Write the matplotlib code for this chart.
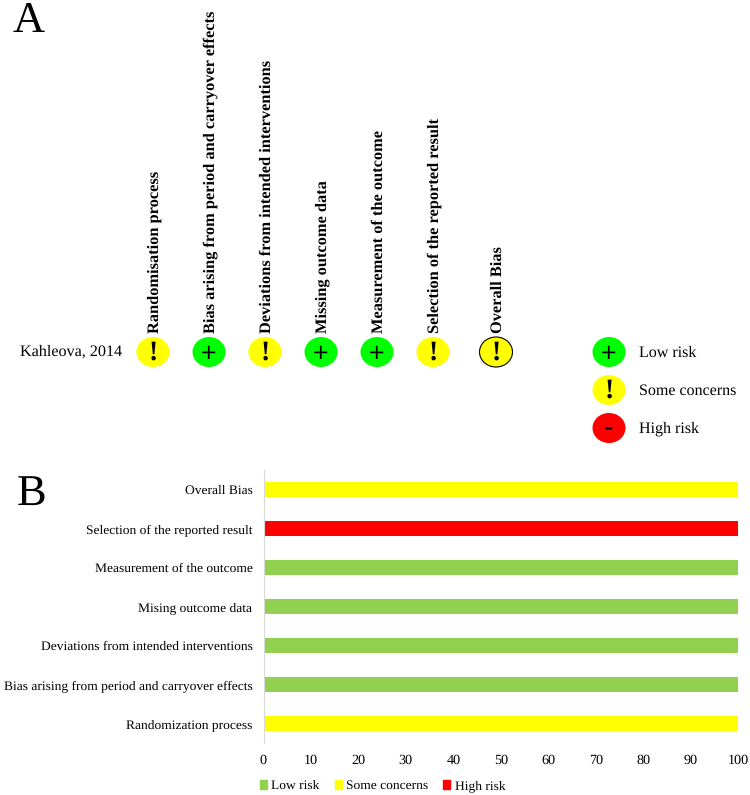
import matplotlib
matplotlib.use("Agg")
import matplotlib.pyplot as plt
from matplotlib.patches import Ellipse, Patch

plt.rcParams['font.family'] = ['Liberation Serif', 'DejaVu Sans']
plt.rcParams['text.hinting'] = 'no_hinting'

W, H = 750, 795

# panel A
domains_a = ["Randomisation process", "Bias arising from period and carryover effects",
             "Deviations from intended interventions", "Missing outcome data",
             "Measurement of the outcome", "Selection of the reported result", "Overall Bias"]
judgements = ["!", "+", "!", "+", "+", "!", "!"]
study = "Kahleova, 2014"
risk_names = ["Low risk", "Some concerns", "High risk"]
risk_symbols = ["+", "!", "-"]

# panel B
domains_b = ["Randomization process", "Bias arising from period and carryover effects",
             "Deviations from intended interventions", "Mising outcome data",
             "Measurement of the outcome", "Selection of the reported result", "Overall Bias"]
low_risk = [0, 100, 100, 100, 100, 0, 0]
some_concerns = [100, 0, 0, 0, 0, 0, 100]
high_risk = [0, 0, 0, 0, 0, 100, 0]
xticks = [0, 10, 20, 30, 40, 50, 60, 70, 80, 90, 100]

sym_colors = {"+": "#00ff00", "!": "#ffff00", "-": "#ff0000"}
col_x = [153, 209, 265, 321, 377, 433, 496]
row_y = 352
legend_x = 609
legend_y = [352, 390, 428]

fig = plt.figure(figsize=(W / 100, H / 100), dpi=100)

ax = fig.add_axes([0, 0, 1, 1])
ax.set_xlim(0, W)
ax.set_ylim(H, 0)
ax.axis("off")


def dot(x, y, s, edge="none"):
    ax.add_patch(Ellipse((x, y), 33, 30, fc=sym_colors[s], ec=edge, lw=0.8))
    if s == "+":
        ax.text(x, y + 1, s, fontsize=15, family="DejaVu Sans", ha="center", va="center")
    else:
        ax.text(x, y + 1, s, fontsize=20, fontweight="bold", ha="center", va="center")


ax.text(13, 32, "A", fontsize=32, ha="left", va="baseline")
ax.text(17, 505, "B", fontsize=32, ha="left", va="baseline")
ax.text(20, 352, study, fontsize=11.6, ha="left", va="center")

for x, name, s in zip(col_x, domains_a, judgements):
    dot(x, row_y, s, edge="black" if name == "Overall Bias" else "none")
    ax.text(x + 2, 333, name, rotation=90, fontsize=11.8, fontweight="bold", ha="center", va="bottom")

for y, name, s in zip(legend_y, risk_names, risk_symbols):
    dot(legend_x, y, s)
    ax.text(639, y + 1, name, fontsize=11.5, ha="left", va="center")

# bar panel
ax2 = fig.add_axes([263.5 / W, 1 - 743 / H, 474.5 / W, 273 / H])
ax2.patch.set_alpha(0)
ypos = list(range(len(domains_b)))
ax2.barh(ypos, low_risk, height=0.41, color="#92d050", label="Low risk")
ax2.barh(ypos, some_concerns, height=0.41, left=low_risk, color="#ffff00", label="Some concerns")
ax2.barh(ypos, high_risk, height=0.41, left=[a + b for a, b in zip(low_risk, some_concerns)],
         color="#ff0000", label="High risk")
ax2.set_xlim(0, 100)
ax2.set_ylim(-0.5, 6.5)
ax2.set_yticks(ypos)
ax2.set_yticklabels(domains_b, fontsize=9.7)
ax2.set_xticks(xticks)
ax2.tick_params(axis="x", length=0, labelsize=10.2, pad=8)
ax2.tick_params(axis="y", length=0, pad=8)
for s in ["top", "right", "bottom"]:
    ax2.spines[s].set_visible(False)
ax2.spines["left"].set_color("#d9d9d9")
ax2.spines["left"].set_linewidth(0.8)

handles = [Patch(color="#92d050"), Patch(color="#ffff00"), Patch(color="#ff0000")]
fig.legend(handles, risk_names, loc="center left", bbox_to_anchor=(260 / W, 1 - 786 / H),
           ncol=3, frameon=False, fontsize=9.7, handlelength=0.55, handleheight=0.7,
           handletextpad=0.3, columnspacing=1.1, borderpad=0, borderaxespad=0)

fig.savefig("out.png", dpi=100)
